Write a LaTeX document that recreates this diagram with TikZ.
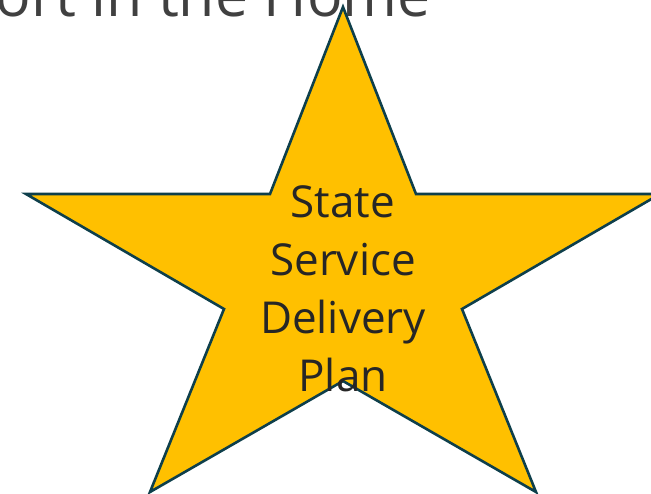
\documentclass[tikz,border=0pt]{standalone}
\usepackage{fontspec}
\setmainfont{Open Sans}
\definecolor{stargold}{HTML}{FFC000}
\definecolor{staredge}{HTML}{0E3F4B}
\definecolor{titlegray}{HTML}{404040}
\definecolor{textdark}{HTML}{262626}
\tikzset{
  starshape/.style={fill=stargold, draw=staredge, line width=2.6pt, line join=miter},
  startext/.style={text=textdark, font=\fontsize{44}{58}\selectfont, align=center, inner sep=0pt},
  titletext/.style={text=titlegray, font=\fontsize{59}{70}\selectfont, inner sep=0pt}
}
\begin{document}
\begin{tikzpicture}[x=1pt,y=-1pt]
\useasboundingbox (0,0) rectangle (651,493);
\node[titletext, anchor=base east] (title) at (431,16) {ort in the Home};
\draw[starshape] (343,7) -- (416,194) -- (660,194) -- (462,309) -- (536,492) -- (343,381)
  -- (150,492) -- (224,309) -- (26,194) -- (270,194) -- cycle;
\node[startext, anchor=base] (l1) at (343,217) {State};
\node[startext, anchor=base] (l2) at (343,275) {Service};
\node[startext, anchor=base] (l3) at (343,333) {Delivery};
\node[startext, anchor=base] (l4) at (343,391) {Plan};
\end{tikzpicture}
\end{document}
